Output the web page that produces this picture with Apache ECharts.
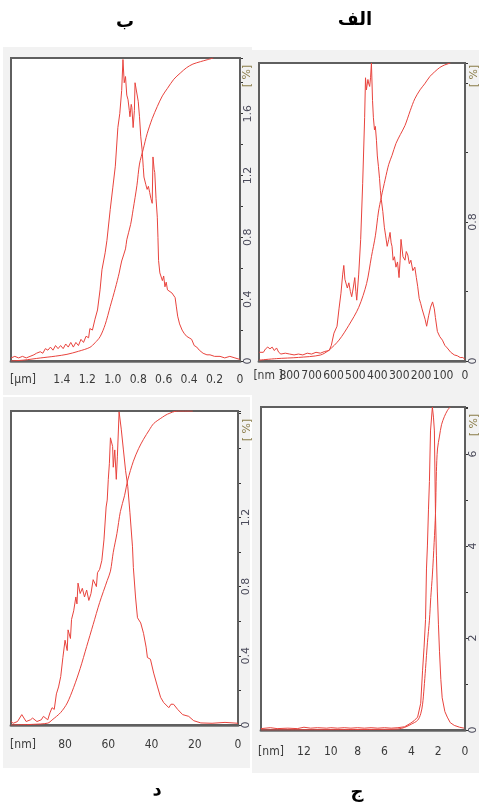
<!DOCTYPE html>
<html><head><meta charset="utf-8">
<script src="https://cdn.jsdelivr.net/npm/echarts@6/dist/echarts.min.js"></script>
<style>html,body{margin:0;padding:0;background:#fff}#c{width:479px;height:805px}</style>
</head><body><div id="c"></div>
<script>
// ---------------- DATA ----------------
const titles = ['ب', 'الف', 'د', 'ج'];           // B (top-left), A (top-right), D (bottom-left), C (bottom-right)
const xUnits = ['[µm]', '[nm ]', '[nm]', '[nm]'];
const yUnit = '[ %]';

const xTicksB = [0, 0.2, 0.4, 0.6, 0.8, 1.0, 1.2, 1.4];
const xTicksA = [0, 100, 200, 300, 400, 500, 600, 700, 800];
const xTicksD = [0, 20, 40, 60, 80];
const xTicksC = [0, 2, 4, 6, 8, 10, 12];
const yTicksB = [0, 0.4, 0.8, 1.2, 1.6];
const yTicksA = [0, 0.8];
const yTicksD = [0, 0.4, 0.8, 1.2];
const yTicksC = [0, 2, 4, 6];

// panel B (ب) : size [µm], density
const densB = [[1.80,0.02],[1.77,0.03],[1.74,0.02],[1.71,0.03],[1.68,0.02],[1.65,0.03],[1.62,0.04],[1.60,0.05],[1.57,0.06],[1.55,0.05],
[1.53,0.08],[1.51,0.07],[1.49,0.09],[1.47,0.07],[1.45,0.10],[1.43,0.08],[1.41,0.10],[1.39,0.08],[1.37,0.11],[1.35,0.09],
[1.33,0.12],[1.31,0.09],[1.29,0.12],[1.27,0.10],[1.25,0.14],[1.23,0.12],[1.21,0.16],[1.19,0.15],[1.18,0.21],[1.16,0.20],
[1.14,0.27],[1.12,0.33],[1.10,0.46],[1.085,0.59],[1.06,0.70],[1.046,0.78],[1.02,0.98],[1.00,1.12],[0.98,1.26],[0.96,1.51],
[0.945,1.60],[0.93,1.75],[0.92,1.95],[0.91,1.80],[0.90,1.84],[0.89,1.72],[0.88,1.69],[0.87,1.62],[0.865,1.58],[0.855,1.66],
[0.85,1.64],[0.84,1.51],[0.83,1.62],[0.825,1.80],[0.81,1.79],[0.80,1.68],[0.79,1.58],[0.78,1.45],[0.77,1.37],[0.76,1.25],
[0.755,1.19],[0.74,1.14],[0.73,1.11],[0.72,1.13],[0.71,1.09],[0.70,1.05],[0.69,1.02],[0.684,1.32],[0.675,1.24],[0.67,1.22],
[0.66,1.05],[0.65,0.93],[0.645,0.80],[0.64,0.65],[0.63,0.57],[0.61,0.52],[0.60,0.55],[0.59,0.48],[0.58,0.51],[0.57,0.46],
[0.555,0.47],[0.535,0.44],[0.52,0.43],[0.51,0.41],[0.50,0.35],[0.49,0.29],[0.475,0.24],[0.455,0.20],[0.44,0.18],[0.42,0.16],
[0.40,0.15],[0.38,0.14],[0.36,0.10],[0.34,0.09],[0.32,0.07],[0.29,0.05],[0.26,0.04],[0.236,0.04],[0.20,0.03],[0.157,0.03],
[0.12,0.02],[0.08,0.03],[0.04,0.02],[0,0.01]];
const cumB = [[1.8,0],[1.7,0.3],[1.57,1],[1.45,1.6],[1.36,2.2],[1.27,3.2],[1.18,4.5],[1.14,6],[1.10,8],[1.06,12],[1.02,18],
[0.98,24],[0.95,29],[0.93,33],[0.90,37],[0.89,40],[0.86,45],[0.84,50],[0.81,58],[0.79,65],[0.76,70],[0.73,75],[0.69,80],
[0.65,84],[0.61,87.5],[0.57,90],[0.52,93],[0.47,95],[0.42,96.8],[0.37,98],[0.31,98.8],[0.26,99.4],[0.21,100]];

// panel A (الف) : size [nm], density
const densA = [[939,0.05],[930,0.06],[920,0.05],[910,0.07],[900,0.08],[890,0.07],[880,0.08],[870,0.06],[860,0.075],[850,0.05],
[840,0.04],[820,0.045],[800,0.04],[780,0.035],[760,0.04],[740,0.035],[720,0.045],[700,0.04],[680,0.05],[660,0.045],
[640,0.055],[620,0.06],[610,0.09],[598,0.16],[584,0.20],[575,0.30],[566,0.39],[558,0.50],[553,0.55],[548,0.47],
[544,0.48],[537,0.42],[530,0.45],[523,0.40],[517,0.37],[510,0.42],[503,0.48],[498,0.40],[494,0.35],[485,0.50],
[476,0.70],[467,1.02],[458,1.40],[454,1.63],[450,1.56],[447,1.55],[443,1.62],[440,1.60],[435,1.58],[431,1.63],
[427,1.715],[422,1.50],[418,1.40],[413,1.33],[409,1.35],[404,1.27],[400,1.18],[395,1.12],[390,1.05],[386,0.98],
[382,0.93],[375,0.86],[368,0.77],[362,0.72],[355,0.66],[348,0.70],[342,0.74],[337,0.68],[333,0.66],[328,0.58],
[322,0.60],[315,0.54],[308,0.57],[301,0.48],[296,0.58],[292,0.70],[283,0.60],[274,0.58],[268,0.63],[261,0.61],
[254,0.56],[247,0.58],[238,0.52],[229,0.54],[222,0.48],[216,0.43],[209,0.36],[202,0.33],[196,0.30],[189,0.29],
[182,0.24],[175,0.20],[166,0.26],[157,0.31],[148,0.34],[140,0.30],[135,0.25],[126,0.17],[115,0.14],[103,0.12],
[92,0.09],[81,0.075],[65,0.05],[49,0.035],[35,0.03],[22,0.02],[10,0.02],[0,0.01]];
const cumA = [[939,0.3],[860,0.8],[760,1.2],[660,2],[620,3.7],[575,7],[530,12],[485,18],[449,26],[427,35],[409,42],
[395,50],[382,55],[364,61],[348,66],[333,69],[315,73],[295,76],[274,79],[250,84],[229,88],[205,91],[184,93],
[160,95.5],[139,97],[115,98.5],[94,99.3],[67,100]];

// panel D (د) : size [nm], density
const densD = [[105,0.02],[104,0.01],[102,0.02],[100,0.06],[98,0.02],[96,0.03],[95,0.04],[93,0.02],[91,0.03],[90,0.05],
[88,0.03],[87,0.07],[86,0.10],[85,0.09],[84,0.18],[83,0.22],[82,0.28],[81,0.39],[80,0.49],[79,0.43],
[78.6,0.55],[77.5,0.50],[77,0.61],[76,0.66],[75,0.74],[74.5,0.70],[74,0.82],[73,0.76],[72,0.79],[71,0.74],
[70,0.78],[69,0.72],[68,0.76],[67,0.84],[65.5,0.80],[65,0.88],[64,0.90],[63,0.95],[62,1.07],[61,1.26],
[60.5,1.30],[60,1.42],[59.5,1.51],[59,1.66],[58,1.61],[57.7,1.49],[57,1.59],[56.3,1.42],[55.8,1.55],[55,1.81],
[54,1.71],[53,1.59],[52,1.47],[51,1.38],[50,1.23],[48.8,1.03],[48.4,0.91],[47.4,0.74],[46.5,0.62],[45,0.59],
[43.7,0.53],[42.5,0.45],[41.9,0.39],[40.5,0.38],[39,0.30],[37.2,0.22],[35.8,0.16],[34.4,0.13],[32,0.10],[31,0.12],
[29.8,0.12],[27.9,0.09],[25.6,0.06],[22.8,0.05],[20.5,0.025],[17.2,0.012],[12,0.01],[6,0.015],[0,0.01]];
const cumD = [[105,0],[95,0.2],[88,0.6],[86,1.6],[82,4],[79,7],[76,12],[73,18],[70,25],[67,32],[64,39],[60.5,46],
[59,49],[57.7,55],[56,61],[54.4,68],[52.5,73],[51,78],[48.4,84],[46,88],[43.7,91],[41,94],[39,96],[35,98],
[32.6,99],[27.9,100],[20.9,100]];

// panel C (ج) : size [nm], density
const densC = [[15.2,0.03],[14.5,0.05],[14,0.03],[13.2,0.04],[12.5,0.03],[12,0.06],[11.5,0.04],[11,0.05],[10.3,0.04],[10,0.05],
[9.5,0.04],[9,0.05],[8.5,0.04],[8,0.05],[7.5,0.04],[7,0.05],[6.5,0.04],[6,0.05],[5.5,0.04],[5,0.05],
[4.5,0.07],[4.04,0.15],[3.8,0.2],[3.53,0.28],[3.3,0.58],[3.16,1.3],[3.05,1.8],[2.94,2.4],[2.87,3.5],[2.8,4.0],
[2.72,4.8],[2.65,5.4],[2.57,6.5],[2.43,7.02],[2.35,6.8],[2.28,6.5],[2.2,4.7],[2.13,3.8],[2.06,3.0],[1.98,2.3],
[1.9,1.7],[1.8,1.1],[1.7,0.7],[1.5,0.4],[1.32,0.28],[1.1,0.16],[0.8,0.1],[0.4,0.06],[0.07,0.04]];
const cumC = [[15.2,0],[6,0.2],[5,0.3],[4.5,0.8],[4,1.8],[3.53,3],[3.3,5],[3.16,8],[3.05,13],[2.94,19],[2.8,27],
[2.65,34],[2.55,41],[2.43,48],[2.3,58],[2.2,67],[2.13,80],[2.05,87],[1.9,91],[1.75,94.5],[1.54,97],[1.3,99],[1.1,100]];

// ---------------- CHART ----------------
const RED = '#e8433d';
const NARROW = '"Liberation Sans Narrow","DejaVu Sans Condensed","Liberation Sans",sans-serif';
const near = (list, v) => list.some(t => Math.abs(t - v) < 1e-6);
const r3 = v => Math.round(v * 1000) / 1000;

const panels = [
  {grid:{left:11, top:58, width:229, height:303}, xMax:1.8, xInt:0.2, yMax:1.96, yInt:0.2, xMargin:13,
   xTicks:xTicksB, yTicks:yTicksB, xDec:1, yDec:1, dens:densB, cum:cumB},
  {grid:{left:259, top:63, width:209, height:298}, xMax:940, xInt:100, yMax:1.715, yInt:0.4, xMargin:9,
   xTicks:xTicksA, yTicks:yTicksA, xDec:0, yDec:1, dens:densA, cum:cumA},
  {grid:{left:11, top:411, width:227, height:314}, xMax:105, xInt:20, yMax:1.815, yInt:0.2, xMargin:14,
   xTicks:xTicksD, yTicks:yTicksD, xDec:0, yDec:1, dens:densD, cum:cumD},
  {grid:{left:261, top:407, width:207, height:323}, xMax:15.2, xInt:2, yMax:7.02, yInt:1, xMargin:16,
   xTicks:xTicksC, yTicks:yTicksC, xDec:0, yDec:0, dens:densC, cum:cumC}
];

const grids = [], xAxes = [], yAxes = [], series = [];
panels.forEach((p, i) => {
  grids.push(Object.assign({show:true, backgroundColor:'#ffffff', borderColor:'#5f5f5f', borderWidth:2, z:1}, p.grid));
  xAxes.push({
    type:'value', gridIndex:i, min:0, max:p.xMax, interval:p.xInt, inverse:true, position:'bottom',
    axisLine:{show:true, onZero:false, lineStyle:{color:'#8a8a8a', width:3}},
    axisTick:{show:false},
    splitLine:{show:true, lineStyle:{color:'#dddddd', width:1}},
    axisLabel:{margin:p.xMargin, color:'#3a3a3a', fontSize:12, fontFamily:NARROW, hideOverlap:false,
      formatter: v => { const r = r3(v); if (!near(p.xTicks, r)) return ''; return r === 0 ? '0' : r.toFixed(p.xDec); }}
  });
  yAxes.push({
    type:'value', gridIndex:i, min:0, max:p.yMax, interval:p.yInt, position:'right',
    axisLine:{show:true, onZero:false, lineStyle:{color:'#5f5f5f', width:2}},
    axisTick:{show:true, length:3, lineStyle:{color:'#333', width:1}},
    splitLine:{show:true, lineStyle:{color:'#d6d6d6', width:1, type:[3,3]}},
    axisLabel:{rotate:90, margin:3, color:'#4a4a5a', fontSize:11, fontFamily:'"DejaVu Sans",sans-serif', hideOverlap:false,
      formatter: v => { const r = r3(v); if (!near(p.yTicks, r)) return ''; return r === 0 ? '0' : r.toFixed(p.yDec); }}
  });
  yAxes.push({type:'value', gridIndex:i, min:0, max:100, show:false, splitLine:{show:false}});
  series.push({type:'line', xAxisIndex:i, yAxisIndex:2*i, data:p.dens, showSymbol:false, symbol:'none',
    lineStyle:{color:RED, width:1}, silent:true, animation:false, z:3});
  series.push({type:'line', xAxisIndex:i, yAxisIndex:2*i+1, data:p.cum, showSymbol:false, symbol:'none', smooth:0.3,
    lineStyle:{color:RED, width:1}, silent:true, animation:false, z:3});
});

const bgRects = [[3,47,249,348],[252,50,227,345],[3,397,247,371],[252,395,227,378]];
const titlePos = [[125,22],[355,20],[157,790],[357,792]];
const xUnitPos = [[23,380],[268,376],[23,745],[271,752]];
const yUnitPos = [[247,76],[474,76],[247,430],[474,425]];

const graphic = [];
bgRects.forEach(b => graphic.push({type:'rect', z:-100, silent:true, shape:{x:b[0], y:b[1], width:b[2], height:b[3]}, style:{fill:'#f2f2f2'}}));
titles.forEach((t, i) => graphic.push({type:'text', x:titlePos[i][0], y:titlePos[i][1], z:10, silent:true,
  style:{text:t, fill:'#000', font:'bold 18px "DejaVu Sans", sans-serif', textAlign:'center', textVerticalAlign:'middle', align:'center', verticalAlign:'middle'}}));
xUnits.forEach((t, i) => graphic.push({type:'text', x:xUnitPos[i][0], y:xUnitPos[i][1], z:10, silent:true,
  style:{text:t, fill:'#3a3a3a', font:'12px ' + NARROW, textAlign:'center', textVerticalAlign:'middle', align:'center', verticalAlign:'middle'}}));
yUnitPos.forEach(pos => graphic.push({type:'text', x:pos[0], y:pos[1], rotation:Math.PI/2, z:10, silent:true,
  style:{text:yUnit, fill:'#8b7d4a', font:'11px "DejaVu Sans", sans-serif', textAlign:'center', textVerticalAlign:'middle', align:'center', verticalAlign:'middle'}}));

const chart = echarts.init(document.getElementById('c'), null, {renderer:'canvas'});
chart.setOption({
  animation:false,
  backgroundColor:'#ffffff',
  grid:grids, xAxis:xAxes, yAxis:yAxes, series:series, graphic:graphic
});
</script></body></html>
